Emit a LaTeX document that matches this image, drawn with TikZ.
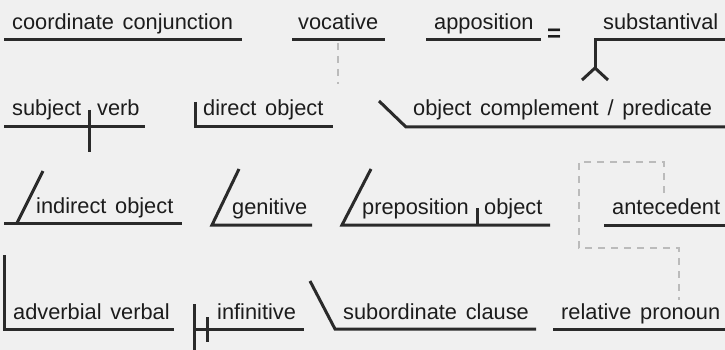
\documentclass[tikz,border=0pt]{standalone}
\usepackage{fontspec}
\setmainfont{Liberation Sans}
\usepackage{tikz}
\usetikzlibrary{calc}

\definecolor{paper}{HTML}{F0F0F0}
\definecolor{ink}{HTML}{2A2A2A}
\definecolor{textink}{HTML}{1C1C1C}
\definecolor{linkgray}{HTML}{BBBBBB}

\newcommand\wordfont{\fontsize{21.8}{26}\selectfont
  \spaceskip=0.4em plus 0.1em minus 0.1em\relax}

\tikzset{
  rule/.style={line width=3pt, draw=ink, line cap=butt, line join=miter},
  link/.style={line width=2pt, draw=linkgray, dash pattern=on 7pt off 6pt},
  word/.style={anchor=base west, inner sep=0pt, text=textink, font=\wordfont},
}

\begin{document}
\begin{tikzpicture}[x=1pt,y=-1pt]
            % Canvas with the reference margins
            \fill[paper] (0,0) rectangle (725,350);
            \useasboundingbox (0,0) rectangle (725,350);

            % Row 1: coordinate conjunction, vocative, apposition = substantival
            \node[word] (conj) at (12,30) {coordinate conjunction};
            \draw[rule] (4,40) -- (242,40);
            \node[word] (voc) at (298,30) {vocative};
            \draw[rule] (292,40) -- (385,40);
            \draw[link] (338,43) -- (338,84);
            \node[word] (appos) at (434,30) {apposition};
            \draw[rule] (426,40) -- (541,40);
            \node[word, font=\fontsize{24}{26}\bfseries] (equals) at (547,42) {=};
            \node[word] (subst) at (603,30) {substantival};
            \draw[rule] (725,40) -- (595,40) -- (595,68);
            \draw[rule] (582,80) -- (595,68) -- (608,80);

            % Row 2: subject | verb, direct object, object complement
            \node[word] (subj) at (12,116) {subject};
            \node[word] (verb) at (97,116) {verb};
            \draw[rule] (4,127) -- (145,127);
            \draw[rule] (89,110) -- (89,152);
            \node[word] (dobj) at (203,116) {direct object};
            \draw[rule] (195,102) -- (195,127) -- (333,127);
            \node[word] (ocomp) at (413,116) {object complement / predicate};
            \draw[rule] (379,101) -- (406,127) -- (725,127);

            % Row 3: indirect object, genitive, prepositional phrase, antecedent
            \node[word] (iobj) at (36,213) {indirect object};
            \draw[rule] (4,223) -- (182,223);
            \draw[rule] (17,223) -- (43,171);
            \node[word] (gen) at (232,214) {genitive};
            \draw[rule] (239,169) -- (212,225) -- (312,225);
            \node[word] (prep) at (362,214) {preposition};
            \node[word] (pobj) at (484,214) {object};
            \draw[rule] (371,169) -- (342,225) -- (550,225);
            \draw[rule] (477,208) -- (477,225);
            \node[word] (ante) at (612,214) {antecedent};
            \draw[rule] (604,225) -- (725,225);

            % Dashed link from antecedent to relative pronoun
            \draw[link] (664,193) -- (664,162) -- (579,162) -- (579,248) -- (679,248) -- (679,300);

            % Row 4: adverbial verbal, infinitive, subordinate clause, relative pronoun
            \node[word] (adv) at (13,319) {adverbial verbal};
            \draw[rule] (4,255) -- (4,329) -- (174,329);
            \node[word] (inf) at (217,319) {infinitive};
            \draw[rule] (194,304) -- (194,350);
            \draw[rule] (207,317) -- (207,342);
            \draw[rule] (194,329) -- (304,329);
            \node[word] (sub) at (343,319) {subordinate clause};
            \draw[rule] (310,281) -- (335,329) -- (536,329);
            \node[word] (rel) at (561,319) {relative pronoun};
            \draw[rule] (553,329) -- (725,329);
\end{tikzpicture}
\end{document}
